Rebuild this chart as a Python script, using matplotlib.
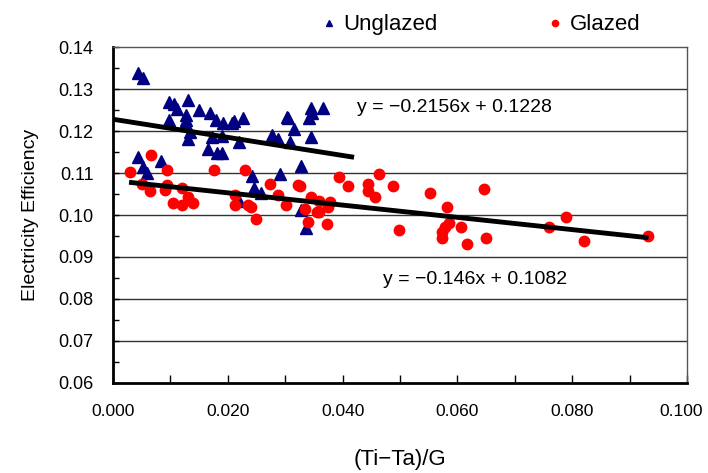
import matplotlib
matplotlib.use("Agg")
import matplotlib.pyplot as plt
import numpy as np
from matplotlib.ticker import MultipleLocator, FormatStrFormatter
from matplotlib.transforms import ScaledTranslation

plt.rcParams['font.family'] = ['Liberation Sans', 'DejaVu Sans']

# Unglazed data
unglazed_x = [0.0043, 0.0053, 0.0098, 0.0107, 0.0111, 0.0131, 0.0149, 0.0098, 0.0128, 0.0128,
              0.0125, 0.0135, 0.0131, 0.0169, 0.0179, 0.0192, 0.0207, 0.0211, 0.0226, 0.0173,
              0.0190, 0.0220, 0.0165, 0.0182, 0.0190, 0.0277, 0.0288, 0.0303, 0.0305, 0.0315,
              0.0308, 0.0345, 0.0346, 0.0342, 0.0366, 0.0345, 0.0328, 0.0043, 0.0084, 0.0053,
              0.0060, 0.0243, 0.0246, 0.0257, 0.0291, 0.0219, 0.0327, 0.0336]
unglazed_y = [0.1337, 0.1327, 0.1268, 0.1264, 0.1253, 0.1273, 0.1249, 0.1226, 0.1238, 0.1227,
              0.1216, 0.1198, 0.1180, 0.1242, 0.1227, 0.1218, 0.1220, 0.1223, 0.1232, 0.1185,
              0.1189, 0.1174, 0.1157, 0.1147, 0.1147, 0.1190, 0.1181, 0.1233, 0.1230, 0.1204,
              0.1173, 0.1254, 0.1242, 0.1230, 0.1254, 0.1185, 0.1116, 0.1138, 0.1129, 0.1115,
              0.1100, 0.1093, 0.1064, 0.1052, 0.1097, 0.1034, 0.1013, 0.0969]

# Glazed data
glazed_x = [0.0030, 0.0067, 0.0094, 0.0050, 0.0064, 0.0094, 0.0091, 0.0121, 0.0131, 0.0139,
            0.0105, 0.0121, 0.0176, 0.0230, 0.0213, 0.0213, 0.0236, 0.0240, 0.0250, 0.0274,
            0.0287, 0.0301, 0.0322, 0.0325, 0.0345, 0.0335, 0.0339, 0.0359, 0.0355, 0.0359,
            0.0378, 0.0375, 0.0372, 0.0393, 0.0409, 0.0464, 0.0444, 0.0444, 0.0457, 0.0487,
            0.0552, 0.0646, 0.0582, 0.0586, 0.0578, 0.0573, 0.0573, 0.0606, 0.0498, 0.0616,
            0.0650, 0.0759, 0.0789, 0.0821, 0.0932]
glazed_y = [0.1102, 0.1144, 0.1107, 0.1075, 0.1057, 0.1071, 0.1060, 0.1065, 0.1043, 0.1029,
            0.1029, 0.1024, 0.1107, 0.1107, 0.1048, 0.1024, 0.1025, 0.1019, 0.0991, 0.1075,
            0.1048, 0.1024, 0.1071, 0.1069, 0.1043, 0.1014, 0.0983, 0.1033, 0.1006, 0.1006,
            0.1030, 0.1019, 0.0978, 0.1090, 0.1070, 0.1097, 0.1075, 0.1056, 0.1042, 0.1070,
            0.1052, 0.1061, 0.1020, 0.0982, 0.0971, 0.0960, 0.0945, 0.0972, 0.0964, 0.0931,
            0.0945, 0.0972, 0.0996, 0.0937, 0.0949]

# Trend lines (slope, intercept, x range)
unglazed_fit = (-0.2156, 0.1228)
unglazed_range = [0.0, 0.042]
glazed_fit = (-0.146, 0.1082)
glazed_range = [0.0028, 0.0933]

xticks = [0.000, 0.020, 0.040, 0.060, 0.080, 0.100]
yticks = [0.06, 0.07, 0.08, 0.09, 0.10, 0.11, 0.12, 0.13, 0.14]

fig = plt.figure(figsize=(7.08, 4.73), dpi=100)
ax = fig.add_axes([0.1596, 0.1903, 0.8107, 0.7103])

ax.set_xlim(0, 0.1)
ax.set_ylim(0.06, 0.14)

for y in yticks[1:-1]:
    ax.axhline(y, color='#333333', lw=1.0, zorder=1)

ax.plot(unglazed_x, unglazed_y, linestyle='none', marker='^', color='#000080',
        markersize=8, zorder=3, label='Unglazed')
ax.plot(glazed_x, glazed_y, linestyle='none', marker='o', color='#ff0000',
        markersize=7.5, zorder=3, label='Glazed')

ux = np.array(unglazed_range)
ax.plot(ux, unglazed_fit[0] * ux + unglazed_fit[1], color='black', lw=3.5, zorder=4,
        solid_capstyle='butt')
gx = np.array(glazed_range)
ax.plot(gx, glazed_fit[0] * gx + glazed_fit[1], color='black', lw=3.5, zorder=4,
        solid_capstyle='butt')

ax.text(0.0425, 0.1257, 'y = \u22120.2156x + 0.1228', fontsize=14, color='black',
        va='center', ha='left')
ax.text(0.047, 0.0846, 'y = \u22120.146x + 0.1082', fontsize=14, color='black',
        va='center', ha='left')

ax.set_xticks(xticks)
ax.xaxis.set_minor_locator(MultipleLocator(0.01))
ax.xaxis.set_major_formatter(FormatStrFormatter('%.3f'))
ax.set_yticks(yticks)
ax.yaxis.set_minor_locator(MultipleLocator(0.005))
ax.yaxis.set_major_formatter(FormatStrFormatter('%.2f'))
ax.tick_params(axis='both', which='both', direction='in', labelsize=13, color='black')
ax.tick_params(axis='x', which='both', length=6, width=1, pad=15, labelsize=12.5)
ax.tick_params(axis='y', which='both', length=4, width=1, pad=14)

for s in ['left', 'bottom']:
    ax.spines[s].set_linewidth(2)
    ax.spines[s].set_color('black')
for s in ['top', 'right']:
    ax.spines[s].set_linewidth(1)
    ax.spines[s].set_color('#555555')

ax.set_xlabel('(Ti\u2212Ta)/G', fontsize=16, labelpad=22)
ax.set_ylabel('Electricity Efficiency', fontsize=14, labelpad=14)

# nudge the last x tick label slightly left so it stays inside the figure
last = ax.get_xticklabels()[-1]
last.set_transform(last.get_transform() + ScaledTranslation(-4 / 72, 0, fig.dpi_scale_trans))

leg = fig.legend(loc='upper center', bbox_to_anchor=(0.68, 1.012), ncol=2, frameon=False,
                 fontsize=16, markerscale=0.6, handlelength=0.6, handletextpad=0.35,
                 columnspacing=5.0)

fig.savefig('out.png', dpi=100)
